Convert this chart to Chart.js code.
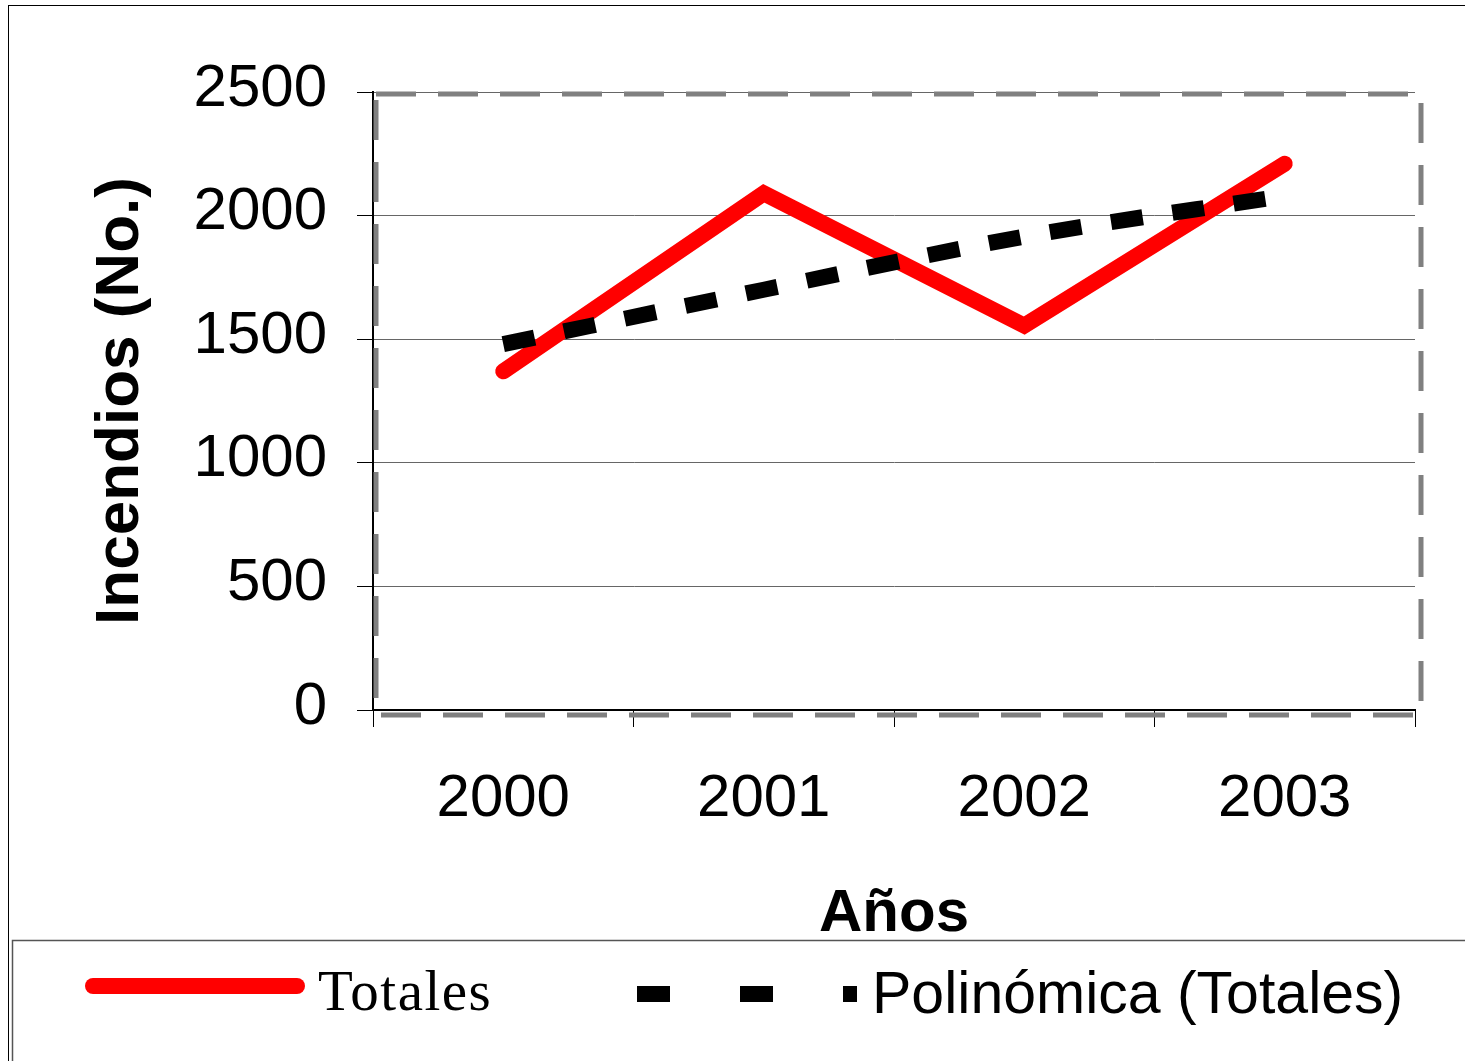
<!DOCTYPE html>
<html>
<head>
<meta charset="utf-8">
<script src="https://cdn.jsdelivr.net/npm/chart.js@4"></script>
<style>
  html, body { margin: 0; padding: 0; background: #fff; }
  canvas { display: block; }
</style>
</head>
<body>
<canvas id="myChart" width="1465" height="1061"></canvas>
<script>
// values
const years = ['2000', '2001', '2002', '2003'];
const totales = [1370, 2090, 1555, 2210];
const polinomica = [1480, 1700, 1915, 2080];
const seriesLabels = ['Totales', 'Polinómica (Totales)'];
const yTitle = 'Incendios (No.)';
const xTitle = 'Años';

const ctx = document.getElementById('myChart');
const SANS = "'Liberation Sans', Arial, sans-serif";

// frame, gray dashed plot border and the hand-made legend box
const decor = {
  id: 'decor',
  beforeDatasetsDraw(chart) {
    const c = chart.ctx;
    const a = chart.chartArea;
    c.save();
    c.strokeStyle = '#808080';
    c.lineWidth = 5;
    c.setLineDash([40, 22]);
    c.strokeRect(a.left + 3, a.top + 2, a.right - a.left + 3, a.bottom - a.top + 3);
    c.restore();
  },
  afterDraw(chart) {
    const c = chart.ctx;
    c.save();
    // outer chart frame
    c.strokeStyle = '#000';
    c.lineWidth = 1;
    c.strokeRect(8.5, 5.5, 1500, 1100);
    // legend box
    c.strokeStyle = '#555';
    c.lineWidth = 1.5;
    c.strokeRect(12.5, 940.5, 1500, 200);

    // Totales sample
    const ds0 = chart.data.datasets[0];
    c.strokeStyle = ds0.borderColor;
    c.lineWidth = ds0.borderWidth;
    c.lineCap = 'round';
    c.beginPath();
    c.moveTo(93, 986);
    c.lineTo(297, 986);
    c.stroke();
    c.fillStyle = '#000';
    c.font = "57px 'Liberation Serif', 'Times New Roman', serif";
    c.letterSpacing = '1.5px';
    c.textBaseline = 'alphabetic';
    c.fillText(ds0.label, 318, 1010);
    c.letterSpacing = '0px';

    // trend sample
    const ds1 = chart.data.datasets[1];
    c.strokeStyle = ds1.borderColor;
    c.lineWidth = ds1.borderWidth;
    c.lineCap = 'butt';
    c.setLineDash([33, 70]);
    c.beginPath();
    c.moveTo(637, 994);
    c.lineTo(857, 994);
    c.stroke();
    c.setLineDash([]);
    c.font = '59px ' + SANS;
    c.fillText(ds1.label, 872, 1013);
    c.restore();
  }
};

new Chart(ctx, {
  type: 'line',
  data: {
    labels: years,
    datasets: [{
      label: seriesLabels[0],
      data: totales,
      borderColor: '#ff0000',
      backgroundColor: '#ff0000',
      borderWidth: 16,
      borderCapStyle: 'round',
      borderJoinStyle: 'miter',
      pointRadius: 0,
      tension: 0,
      order: 2
    }, {
      label: seriesLabels[1],
      data: polinomica,
      borderColor: '#000',
      backgroundColor: '#000',
      borderWidth: 16,
      borderDash: [32, 30],
      borderCapStyle: 'butt',
      pointRadius: 0,
      cubicInterpolationMode: 'monotone',
      order: 1
    }]
  },
  options: {
    responsive: false,
    animation: false,
    devicePixelRatio: 1,
    layout: { padding: { top: 92, right: 50, bottom: 121, left: 0 } },
    plugins: {
      legend: { display: false },
      tooltip: { enabled: false }
    },
    scales: {
      y: {
        min: 0,
        max: 2500,
        afterFit(scale) { scale.width = 373; },
        ticks: {
          stepSize: 500,
          color: '#000',
          padding: 30,
          labelOffset: -3,
          callback: (v) => String(v),
          font: { family: SANS, size: 60 }
        },
        grid: { color: '#666', lineWidth: 1, tickColor: '#000', tickLength: 16 },
        border: { color: '#000', width: 2 },
        title: {
          display: true,
          text: yTitle,
          color: '#000',
          font: { family: SANS, size: 62, weight: 'bold', lineHeight: 1 },
          padding: { top: 90, bottom: 0 }
        }
      },
      x: {
        offset: true,
        afterFit(scale) { scale.height = 230; },
        ticks: {
          color: '#000',
          padding: 36,
          maxRotation: 0,
          font: { family: SANS, size: 60 }
        },
        grid: { drawOnChartArea: false, tickColor: '#000', tickLength: 17, offset: true },
        border: { color: '#000', width: 2 },
        title: {
          display: true,
          text: xTitle,
          color: '#000',
          font: { family: SANS, size: 60, weight: 'bold', lineHeight: 0.8 },
          padding: { top: 0, bottom: 2 }
        }
      }
    }
  },
  plugins: [decor]
});
</script>
</body>
</html>
